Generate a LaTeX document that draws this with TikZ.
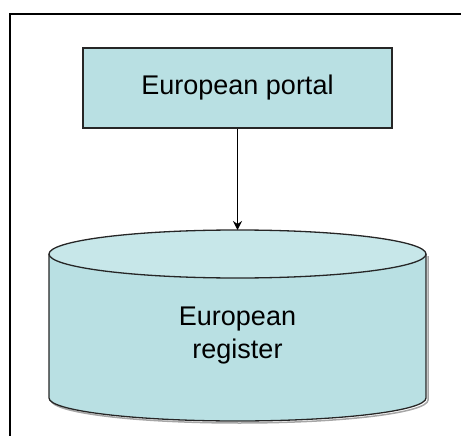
\documentclass[tikz,border=0pt]{standalone}
\usepackage{fontspec}
\setmainfont{Liberation Sans}
\usetikzlibrary{arrows.meta}
\definecolor{boxfill}{HTML}{B9E0E3}
\definecolor{capfill}{HTML}{C7E7E9}
\definecolor{edge}{HTML}{262626}
\begin{document}
\begin{tikzpicture}[x=1pt, y=-1pt,
    every node/.style={font=\fontsize{27}{33}\selectfont, align=center},
    boxnode/.style={draw=edge, fill=boxfill, line width=1.3pt, minimum width=309pt, minimum height=80pt, inner sep=0pt}]
    \useasboundingbox (0,0) rectangle (461,436);
    % frame (top and left only)
    \draw[black, line width=2pt] (461,14) -- (10,14) -- (10,436);

    % register (cylinder)
    \draw[gray!70, line width=1.5pt] (428,256) -- (428,400) arc[start angle=0, end angle=180, x radius=188.5, y radius=23];
    \filldraw[draw=edge, fill=boxfill, line width=1.3pt] (49,254) -- (49,398)
        arc[start angle=180, end angle=0, x radius=188.5, y radius=23] -- (426,254);
    \filldraw[draw=edge, fill=capfill, line width=1.3pt] (237.5,254) ellipse[x radius=188.5, y radius=24];
    \coordinate (regtop) at (237.5,230);
    \node (register) at (237.5,336) {European\\register};

    % portal
    \node[boxnode] (portal) at (237.5,88) {European portal};

    \draw[black, line width=1.5pt, -{Stealth[length=9pt, width=9pt]}] (portal.south) -- (regtop);
    \end{tikzpicture}
\end{document}
